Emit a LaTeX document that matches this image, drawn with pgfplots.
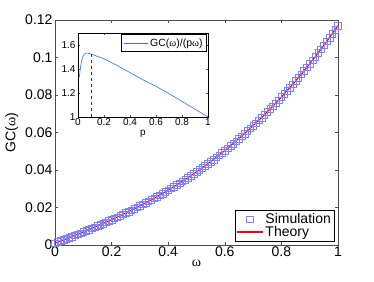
\documentclass[border=0pt]{standalone}
\usepackage{pgfplots}
\pgfplotsset{compat=1.18}
\usepackage{fontspec}
\setmainfont{Liberation Sans}
\newfontfamily\symf{Liberation Serif}
\definecolor{simblue}{rgb}{0.5,0.5,1}
\definecolor{inblue}{rgb}{0.25,0.4,1}
\definecolor{axgray}{rgb}{0.3,0.3,0.3}
\pgfplotsset{
  legline/.style={legend image code/.code={\draw[##1] (0pt,0pt) -- (26pt,0pt);}},
  leglineb/.style={legend image code/.code={\draw[##1, draw=inblue, line width=0.7pt] (0pt,0pt) -- (24pt,0pt);}},
  legmark/.style={legend image code/.code={\draw[##1] plot coordinates {(13pt,0pt)};}},
}
\begin{document}
\begin{tikzpicture}
\path[use as bounding box] (-55pt,-36pt) rectangle (319pt,245pt);
\begin{axis}[
  at={(0pt,0pt)}, anchor=south west,
  scale only axis, width=283pt, height=225pt,
  xmin=0, xmax=1, ymin=0, ymax=0.12,
  xtick={0,0.2,0.4,0.6,0.8,1},
  ytick={0,0.02,0.04,0.06,0.08,0.1,0.12},
  xticklabels={0,0.2,0.4,0.6,0.8,1},
  yticklabels={0,0.02,0.04,0.06,0.08,0.1,0.12},
  tick align=inside, tick pos=both,
  major tick length=3pt,
  axis line style={axgray}, every tick/.style={axgray},
  tick label style={font=\fontsize{14}{15}\selectfont},
  xticklabel style={yshift=2pt},
  yticklabel style={xshift=1pt},
  xlabel={\symf ω}, ylabel={GC(\symf ω\normalfont)},
  label style={font=\fontsize{14}{15}\selectfont},
  xlabel style={yshift=3pt},
  legend style={at={(rel axis cs:0.986,0.018)}, anchor=south east, draw=black, font=\fontsize{14}{15}\selectfont, inner sep=1pt, row sep=-3pt},
  legend cell align=left,
  legline,
]
\addplot[only marks, mark=square, mark size=3.3pt, mark options={draw=simblue, line width=0.5pt}, legmark] coordinates {
(0.00,0.00100)(0.01,0.00158)(0.02,0.00216)(0.03,0.00275)(0.04,0.00334)(0.05,0.00394)(0.06,0.00454)(0.07,0.00514)(0.08,0.00575)(0.09,0.00636)
(0.10,0.00698)(0.11,0.00760)(0.12,0.00823)(0.13,0.00887)(0.14,0.00951)(0.15,0.01016)(0.16,0.01081)(0.17,0.01147)(0.18,0.01214)(0.19,0.01282)
(0.20,0.01351)(0.21,0.01420)(0.22,0.01490)(0.23,0.01561)(0.24,0.01633)(0.25,0.01706)(0.26,0.01780)(0.27,0.01854)(0.28,0.01930)(0.29,0.02007)
(0.30,0.02085)(0.31,0.02164)(0.32,0.02244)(0.33,0.02325)(0.34,0.02407)(0.35,0.02490)(0.36,0.02575)(0.37,0.02661)(0.38,0.02748)(0.39,0.02837)
(0.40,0.02926)(0.41,0.03017)(0.42,0.03110)(0.43,0.03204)(0.44,0.03299)(0.45,0.03396)(0.46,0.03494)(0.47,0.03594)(0.48,0.03695)(0.49,0.03798)
(0.50,0.03902)(0.51,0.04008)(0.52,0.04115)(0.53,0.04225)(0.54,0.04335)(0.55,0.04448)(0.56,0.04562)(0.57,0.04678)(0.58,0.04796)(0.59,0.04916)
(0.60,0.05037)(0.61,0.05161)(0.62,0.05286)(0.63,0.05413)(0.64,0.05542)(0.65,0.05673)(0.66,0.05807)(0.67,0.05942)(0.68,0.06079)(0.69,0.06218)
(0.70,0.06359)(0.71,0.06503)(0.72,0.06648)(0.73,0.06796)(0.74,0.06946)(0.75,0.07098)(0.76,0.07253)(0.77,0.07409)(0.78,0.07569)(0.79,0.07730)
(0.80,0.07894)(0.81,0.08060)(0.82,0.08228)(0.83,0.08399)(0.84,0.08573)(0.85,0.08749)(0.86,0.08927)(0.87,0.09108)(0.88,0.09292)(0.89,0.09478)
(0.90,0.09667)(0.91,0.09858)(0.92,0.10052)(0.93,0.10249)(0.94,0.10449)(0.95,0.10651)(0.96,0.10856)(0.97,0.11064)(0.98,0.11275)(0.99,0.11489)
(1.00,0.11700)};
\addlegendentry{Simulation}
\addplot[red, draw=red, line width=1.2pt, no marks] coordinates {
(0.00,0.00100)(0.04,0.00334)(0.08,0.00575)(0.12,0.00823)(0.16,0.01081)
(0.20,0.01351)(0.24,0.01633)(0.28,0.01930)(0.32,0.02244)(0.36,0.02575)
(0.40,0.02926)(0.44,0.03299)(0.48,0.03695)(0.52,0.04115)(0.56,0.04562)
(0.60,0.05037)(0.64,0.05542)(0.68,0.06079)(0.72,0.06648)(0.76,0.07253)
(0.80,0.07894)(0.84,0.08573)(0.88,0.09292)(0.92,0.10052)(0.96,0.10856)
(1.00,0.11700)};
\addlegendentry{Theory}
\end{axis}
\begin{axis}[
  at={(23pt,128pt)}, anchor=south west,
  scale only axis, width=130pt, height=84pt,
  xmin=0, xmax=1, ymin=1, ymax=1.7,
  xtick={0,0.2,0.4,0.6,0.8,1},
  ytick={1,1.2,1.4,1.6},
  xticklabels={0,0.2,0.4,0.6,0.8,1},
  yticklabels={1,1.2,1.4,1.6},
  tick align=inside, tick pos=both,
  major tick length=2pt,
  axis line style={black}, every tick/.style={axgray},
  tick label style={font=\fontsize{10}{11}\selectfont},
  xticklabel style={yshift=2pt},
  yticklabel style={xshift=1pt},
  xlabel={p},
  label style={font=\fontsize{10}{11}\selectfont},
  xlabel style={yshift=2pt},
  axis background/.style={fill=white},
  legend style={at={(rel axis cs:0.99,0.985)}, anchor=north east, draw=black, font=\fontsize{10.5}{12}\selectfont, inner sep=2pt},
  leglineb,
]
\addplot[inblue, draw=inblue, line width=0.6pt, no marks] coordinates {
(0.01,1.33)(0.02,1.42)(0.03,1.48)(0.04,1.51)(0.05,1.525)(0.06,1.532)(0.07,1.533)(0.08,1.531)(0.10,1.525)(0.15,1.505)(0.20,1.485)(0.30,1.43)(0.40,1.37)(0.50,1.31)(0.60,1.255)(0.70,1.195)(0.80,1.13)(0.90,1.065)(1.00,1.00)};
\addlegendentry{GC(\symf ω\normalfont)/(p\symf ω\normalfont)}
\addplot[black!80, dashed, line width=0.5pt, forget plot] coordinates {(0.1,1)(0.1,1.525)};
\end{axis}
\end{tikzpicture}
\end{document}
